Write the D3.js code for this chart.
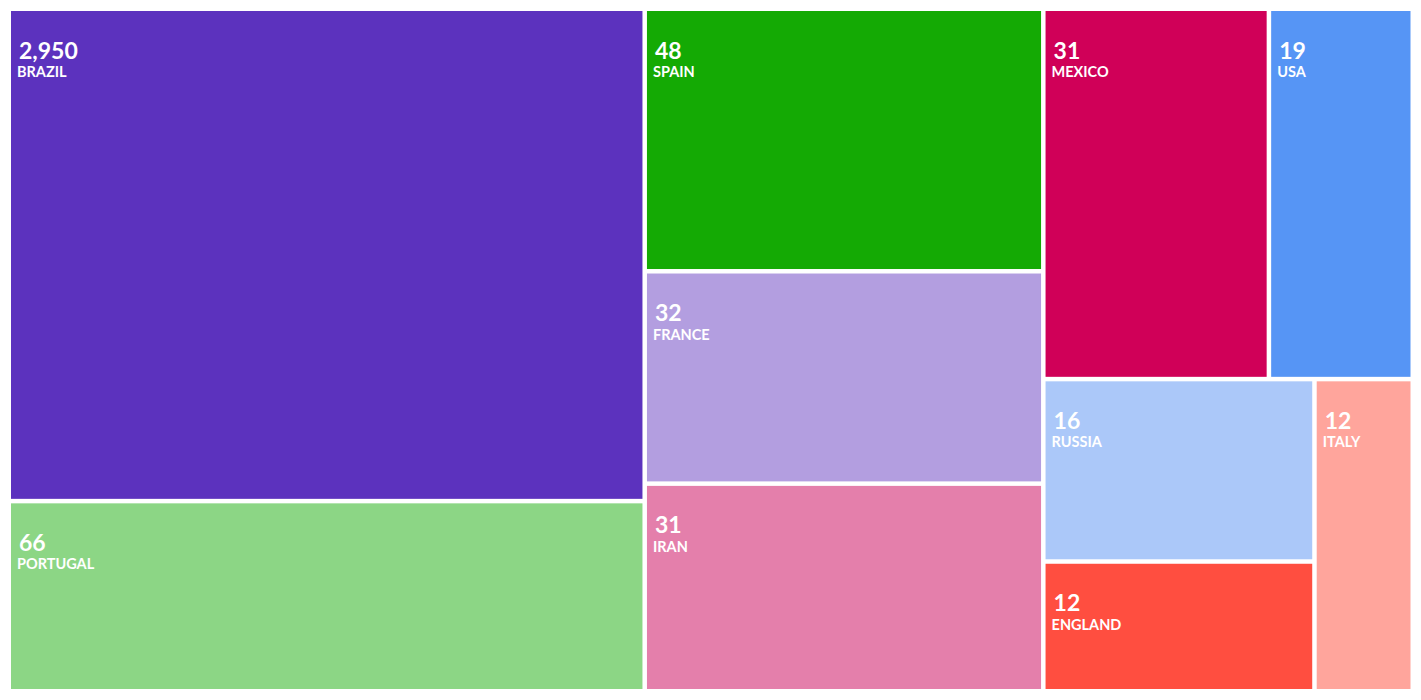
<!DOCTYPE html>
<html>
<head>
<meta charset="utf-8">
<script src="https://cdn.jsdelivr.net/npm/d3@7"></script>
<style>
  html, body { margin: 0; padding: 0; background: #ffffff; }
  svg { display: block; }
  text { font-family: "Lato", "Open Sans", sans-serif; font-weight: 700; fill: #ffffff; }
</style>
</head>
<body>
<svg id="chart" width="1421" height="700"></svg>
<script>
// Data
const countries = ["BRAZIL", "PORTUGAL", "SPAIN", "FRANCE", "IRAN", "MEXICO", "USA", "RUSSIA", "ENGLAND", "ITALY"];
const values = [2950, 66, 48, 32, 31, 31, 19, 16, 12, 12];
// relative tile sizes (tile areas are not proportional to the printed values)
const tileWeights = [313.3, 121.0, 104.7, 84.7, 82.8, 83.6, 53.3, 49.5, 35.2, 30.7];
const colors = ["#5c32be", "#8cd685", "#14aa04", "#b39ee0", "#e47fab", "#d00058", "#5695f5", "#abc8f9", "#ff4e40", "#ffa59c"];

const W = 1421, H = 700;
const svg = d3.select("#chart");

const rootData = {
  name: "root",
  children: countries.map((c, i) => ({ name: c, value: values[i], weight: tileWeights[i], color: colors[i] }))
};

const root = d3.hierarchy(rootData).sum(d => d.children ? 0 : d.weight);

d3.treemap()
  .tile(d3.treemapSquarify)
  .size([W, H])
  .paddingTop(11)
  .paddingLeft(11)
  .paddingRight(10.5)
  .paddingBottom(11)
  .paddingInner(4.5)
  (root);

const fmt = d3.format(",");

const cell = svg.selectAll("g.cell")
  .data(root.leaves())
  .join("g")
  .attr("class", "cell")
  .attr("transform", d => `translate(${d.x0},${d.y0})`);

cell.append("rect")
  .attr("width", d => d.x1 - d.x0)
  .attr("height", d => d.y1 - d.y0)
  .attr("fill", d => d.data.color);

cell.append("text")
  .attr("x", 8)
  .attr("y", 47.5)
  .style("font-size", "23px")
  .text(d => fmt(d.data.value));

cell.append("text")
  .attr("x", 6)
  .attr("y", 66)
  .style("font-size", "14.5px")
  .text(d => d.data.name);
</script>
</body>
</html>
